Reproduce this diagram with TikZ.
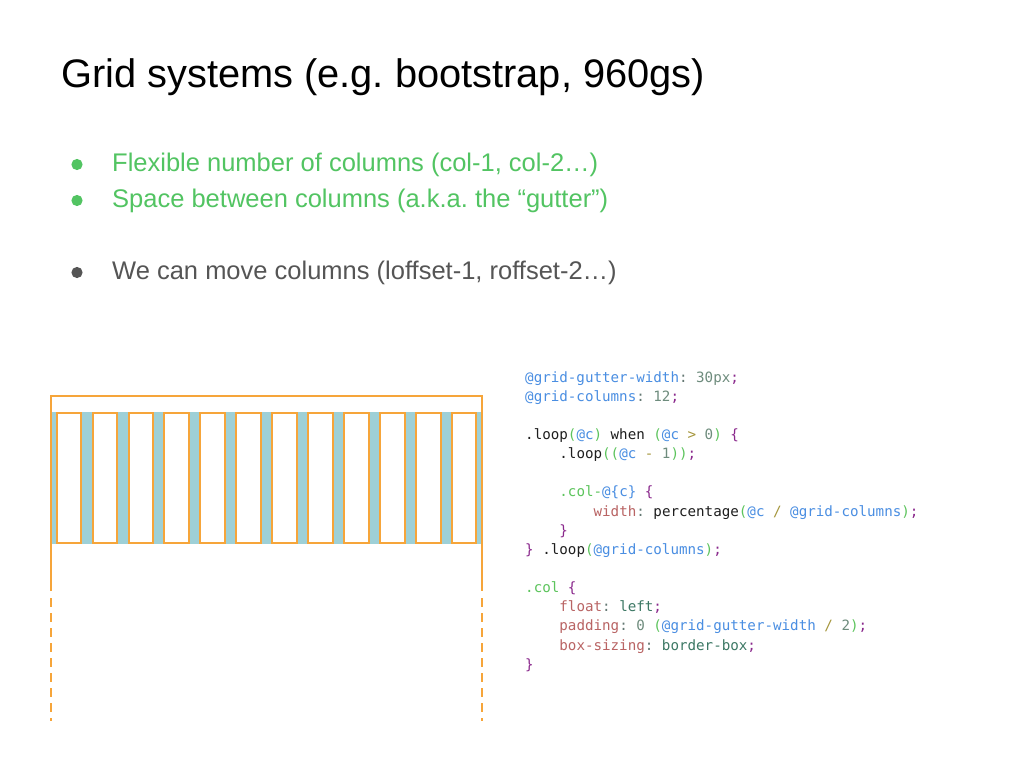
\documentclass[tikz,border=0pt]{standalone}
\usepackage{fontspec}
\setmainfont{Liberation Sans}
\newfontfamily\codefont{DejaVu Sans Mono}
\usepackage{tikz}
\frenchspacing
\definecolor{col_orange}{RGB}{246,165,58}
\definecolor{gutter_blue}{RGB}{158,208,215}
\definecolor{bullet_green}{RGB}{82,196,98}
\definecolor{text_gray}{RGB}{85,85,85}
\definecolor{code_text}{RGB}{30,30,30}
\definecolor{code_var}{RGB}{74,142,226}
\definecolor{code_paren}{RGB}{92,196,92}
\definecolor{code_num}{RGB}{110,140,125}
\definecolor{code_punct}{RGB}{138,40,140}
\definecolor{code_prop}{RGB}{185,100,100}
\definecolor{code_op}{RGB}{165,150,60}
\definecolor{code_val}{RGB}{60,120,100}
\definecolor{code_colon}{RGB}{100,120,115}
\newcommand{\hlvar}[1]{\textcolor{code_var}{#1}}
\newcommand{\hlpar}[1]{\textcolor{code_paren}{#1}}
\newcommand{\hlnum}[1]{\textcolor{code_num}{#1}}
\newcommand{\hlpun}[1]{\textcolor{code_punct}{#1}}
\newcommand{\hlprop}[1]{\textcolor{code_prop}{#1}}
\newcommand{\hlop}[1]{\textcolor{code_op}{#1}}
\newcommand{\hlval}[1]{\textcolor{code_val}{#1}}
\newcommand{\hlcol}[1]{\textcolor{code_colon}{#1}}

\begin{document}
\begin{tikzpicture}[x=1pt,y=-1pt]
    \tikzstyle{title}=[anchor=base west, inner sep=0pt, font=\fontsize{39.8}{46}\selectfont, text=black]
    \tikzstyle{item}=[anchor=base west, inner sep=0pt, font=\fontsize{25.5}{30}\selectfont]
    \tikzstyle{code}=[anchor=base west, inner sep=0pt, font=\codefont\fontsize{14.2}{17}\selectfont, text=code_text]
    \tikzstyle{frame}=[draw=col_orange, line width=1.8pt]
    \tikzstyle{colbox}=[draw=col_orange, line width=2pt, fill=white]

    \fill[white] (0,0) rectangle (1024,768);
    \useasboundingbox (0,0) rectangle (1024,768);

    % heading and bullets
    \node[title] (title) at (61,87) {Grid systems (e.g. bootstrap, 960gs)};
    \node[item, text=bullet_green] (item1) at (112,171) {Flexible number of columns (col-1, col-2\ldots)};
    \node[item, text=bullet_green] (item2) at (112,207) {Space between columns (a.k.a. the “gutter”)};
    \node[item, text=text_gray]    (item3) at (112,279) {We can move columns (loffset-1, roffset-2\ldots)};
    \fill[bullet_green] (77,164.5) circle (5.6pt);
    \fill[bullet_green] (77,200.5) circle (5.6pt);
    \fill[text_gray]    (77,272.5) circle (5.6pt);

    % the grid
    \fill[gutter_blue] (51,412) rectangle (482,544);
    \foreach \i in {0,...,11}
      \draw[colbox] ({56.7+35.92*\i},413) rectangle ++(24.6,130);
    \draw[frame] (51,591) -- (51,396) -- (482,396) -- (482,591);
    \draw[frame, dash pattern=on 9pt off 6pt] (51,598) -- (51,721);
    \draw[frame, dash pattern=on 9pt off 6pt] (482,598) -- (482,721);

    % less source
    \node[code] (code1)  at (525,382)    {\hlvar{@grid-gutter-width}\hlcol{:} \hlnum{30px}\hlpun{;}};
    \node[code] (code2)  at (525,401.15) {\hlvar{@grid-columns}\hlcol{:} \hlnum{12}\hlpun{;}};
    \node[code] (code4)  at (525,439.45) {.loop\hlpar{(}\hlvar{@c}\hlpar{)} when \hlpar{(}\hlvar{@c} \hlop{>} \hlnum{0}\hlpar{)} \hlpun{\{}};
    \node[code] (code5)  at (559.2,458.6) {.loop\hlpar{((}\hlvar{@c} \hlop{-} \hlnum{1}\hlpar{))}\hlpun{;}};
    \node[code] (code7)  at (559.2,496.9) {\hlpar{.col-}\hlvar{@\{c\}} \hlpun{\{}};
    \node[code] (code8)  at (593.4,516.05) {\hlprop{width}\hlcol{:} percentage\hlpar{(}\hlvar{@c} \hlop{/} \hlvar{@grid-columns}\hlpar{)}\hlpun{;}};
    \node[code] (code9)  at (559.2,535.2) {\hlpun{\}}};
    \node[code] (code10) at (525,554.35) {\hlpun{\}} .loop\hlpar{(}\hlvar{@grid-columns}\hlpar{)}\hlpun{;}};
    \node[code] (code12) at (525,592.65) {\hlpar{.col} \hlpun{\{}};
    \node[code] (code13) at (559.2,611.8) {\hlprop{float}\hlcol{:} \hlval{left}\hlpun{;}};
    \node[code] (code14) at (559.2,630.95) {\hlprop{padding}\hlcol{:} \hlnum{0} \hlpar{(}\hlvar{@grid-gutter-width} \hlop{/} \hlnum{2}\hlpar{)}\hlpun{;}};
    \node[code] (code15) at (559.2,650.1) {\hlprop{box-sizing}\hlcol{:} \hlval{border-box}\hlpun{;}};
    \node[code] (code16) at (525,669.25) {\hlpun{\}}};
  \end{tikzpicture}
\end{document}
